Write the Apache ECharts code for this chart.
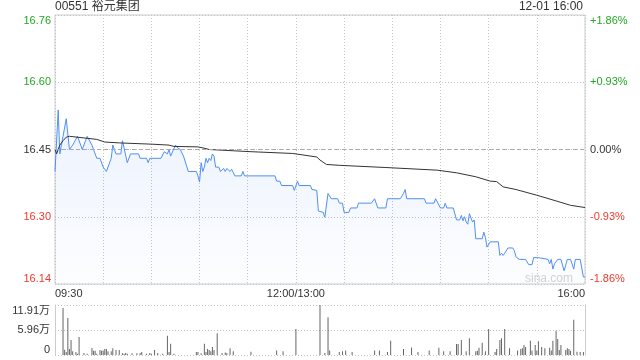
<!DOCTYPE html>
<html><head><meta charset="utf-8">
<script src="https://cdn.jsdelivr.net/npm/echarts@6.0.0/dist/echarts.min.js"></script>
<style>html,body{margin:0;padding:0;background:#fff}#c{width:640px;height:360px}</style>
</head><body><div id="c"></div>
<script>
const prevClose = 16.45;
const stepPct = 0.93;
const priceLabels = ['16.14', '16.30', '16.45', '16.60', '16.76'];
const pctLabels = ['-1.86%', '-0.93%', '0.00%', '+0.93%', '+1.86%'];
const timeLabels = { 0: '09:30', 150: '12:00/13:00', 330: '16:00' };
const volLabels = ['0', '5.96万', '11.91万'];
const volMax = 119100;

const priceMinutes = [0,2,3,4,5,7,9,11,12,14,16,17,19,20,23,26,28,30,32,35,36,38,41,42,45,47,52,53,57,58,59,63,66,68,70,71,72,75,76,78,80,81,83,88,89,90,91,92,93,94,95,96,97,98,99,100,102,103,105,106,107,109,110,112,116,117,118,137,138,140,141,148,149,151,152,159,160,163,164,167,168,170,172,176,177,179,180,183,184,188,189,197,199,201,206,207,215,217,218,219,230,231,236,237,238,240,242,243,244,246,248,250,252,253,254,255,256,257,258,260,261,262,264,265,266,267,268,269,270,271,276,277,278,279,280,282,285,286,287,289,293,294,295,297,298,301,302,307,308,309,310,311,313,315,317,318,319,321,323,324,325,327,329,330];
const priceValues = [16.40,16.54,16.44,16.46,16.48,16.52,16.45,16.46,16.46,16.48,16.46,16.45,16.47,16.48,16.46,16.43,16.43,16.41,16.40,16.43,16.46,16.44,16.44,16.47,16.42,16.44,16.44,16.43,16.43,16.42,16.43,16.43,16.43,16.445,16.44,16.45,16.435,16.46,16.455,16.45,16.435,16.435,16.40,16.40,16.39,16.376,16.42,16.40,16.41,16.43,16.42,16.43,16.425,16.44,16.435,16.41,16.41,16.40,16.407,16.40,16.407,16.40,16.405,16.39,16.39,16.40,16.39,16.39,16.378,16.378,16.368,16.368,16.357,16.378,16.368,16.368,16.359,16.357,16.31,16.307,16.296,16.35,16.338,16.338,16.328,16.328,16.307,16.307,16.317,16.317,16.328,16.328,16.338,16.317,16.317,16.338,16.338,16.35,16.359,16.338,16.338,16.328,16.328,16.338,16.338,16.317,16.317,16.328,16.317,16.317,16.317,16.29,16.29,16.30,16.288,16.297,16.285,16.28,16.304,16.285,16.29,16.247,16.247,16.25,16.247,16.262,16.25,16.228,16.228,16.24,16.24,16.209,16.214,16.209,16.214,16.226,16.226,16.22,16.206,16.20,16.20,16.204,16.188,16.188,16.204,16.204,16.20,16.20,16.19,16.20,16.178,16.19,16.20,16.20,16.174,16.174,16.20,16.20,16.178,16.20,16.20,16.20,16.16,16.16];

const avgMinutes = [0,1,3,5,7,9,26,31,40,61,71,74,89,94,96,122,148,149,163,165,169,177,206,238,250,254,262,271,275,279,287,300,312,321,330];
const avgValues = [16.45,16.44,16.46,16.47,16.478,16.48,16.473,16.467,16.465,16.462,16.46,16.457,16.456,16.452,16.45,16.445,16.441,16.437,16.433,16.426,16.416,16.414,16.409,16.403,16.397,16.394,16.388,16.378,16.377,16.365,16.359,16.346,16.333,16.323,16.318];

const volMinutes = [5,6,7,8,9,10,11,13,14,15,18,20,23,24,25,26,28,29,30,31,32,33,35,36,38,40,42,43,44,45,48,51,53,54,57,59,60,62,64,67,70,71,72,74,88,89,91,93,94,95,96,97,98,99,101,104,106,107,109,111,122,138,142,150,165,168,170,171,177,179,181,185,199,202,207,209,217,222,226,233,239,242,246,250,251,253,256,258,262,263,264,266,268,270,274,275,277,278,280,283,288,290,291,292,293,296,297,299,300,301,303,305,308,309,310,312,313,314,315,318,319,320,321,323,325,327,329];
const volValues = [112000,12600,7000,88000,14000,36000,9000,7000,3000,43000,5000,3000,16700,10000,10000,3000,12000,10000,11000,14000,14000,9000,9000,16000,12000,12000,4000,3000,5000,3000,4000,4000,5000,7000,3000,5000,3000,12000,5000,3000,46000,7000,27000,3000,7000,7000,4000,27000,7000,14000,12000,9000,19000,12000,52000,5000,6000,5000,16000,9000,8000,11000,9000,62000,119100,5000,90000,11000,7000,9000,11000,7000,11000,11000,7000,34000,14000,18000,7000,11000,17000,9000,9000,26000,26000,36000,9000,40000,9000,10000,17000,29000,9000,62000,7000,14000,36000,40000,62000,16000,11000,14000,16000,24000,19000,34000,11000,24000,11000,33000,19000,16000,17000,11000,34000,58000,38000,12000,24000,12000,16000,14000,10000,84000,8000,7000,7000];

const FONT = 'Liberation Sans, Arial, Noto Sans CJK SC, sans-serif';
const toUnit = p => (p / prevClose - 1) * 100 / stepPct;
const labelColor = i => i > 2 ? '#22a722' : (i < 2 ? '#f0392b' : '#333');
const dotted = { color: '#c4c4c4', type: [1, 2], width: 1 };

const priceData = priceMinutes.map((m, i) => [m, toUnit(priceValues[i])]);
const avgData = avgMinutes.map((m, i) => [m, toUnit(avgValues[i])]);
const volData = volMinutes.map((m, i) => [m, volValues[i]]);

const chart = echarts.init(document.getElementById('c'), null, { renderer: 'canvas' });
chart.setOption({
  animation: false,
  textStyle: { fontFamily: FONT },
  title: [
    { text: '00551 裕元集团', left: 55, top: 1, padding: 0, textStyle: { fontSize: 12, fontWeight: 'normal', color: '#333', fontFamily: FONT } },
    { text: '12-01 16:00', right: 57, top: 1, padding: 0, textStyle: { fontSize: 12, fontWeight: 'normal', color: '#333', fontFamily: FONT } }
  ],
  graphic: [{
    type: 'text', right: 67, top: 273, silent: true,
    style: { text: 'sina.com', fontSize: 12, fill: '#d2d2d2', fontFamily: FONT }
  }],
  grid: [
    { left: 55, right: 55, top: 15, height: 269, show: true, borderColor: '#cccccc', borderWidth: 1, backgroundColor: 'transparent' },
    { left: 55, right: 55, top: 305, height: 50 }
  ],
  xAxis: [
    { type: 'value', gridIndex: 0, min: 0, max: 330, interval: 30,
      axisLine: { show: false }, axisTick: { show: false },
      splitLine: { show: true, lineStyle: dotted },
      axisLabel: { margin: 4, fontSize: 11, color: '#333', fontFamily: FONT, alignMinLabel: 'left', alignMaxLabel: 'right',
        showMinLabel: true, showMaxLabel: true, hideOverlap: false,
        formatter: v => timeLabels[v] || '' } },
    { type: 'value', gridIndex: 1, min: 0, max: 330, interval: 30,
      axisLine: { show: false }, axisTick: { show: false }, axisLabel: { show: false }, splitLine: { show: false } }
  ],
  yAxis: [
    { type: 'value', gridIndex: 0, position: 'left', min: -2, max: 2, interval: 1,
      axisLine: { show: false }, axisTick: { show: false },
      splitLine: { show: true, lineStyle: dotted },
      axisLabel: { margin: 4, fontSize: 11, fontFamily: FONT,
        verticalAlignMinLabel: 'bottom', verticalAlignMaxLabel: 'top',
        formatter: v => priceLabels[Math.round(v) + 2],
        color: v => labelColor(Math.round(v) + 2) } },
    { type: 'value', gridIndex: 0, position: 'right', min: -2, max: 2, interval: 1,
      axisLine: { show: false }, axisTick: { show: false }, splitLine: { show: false },
      axisLabel: { margin: 5, fontSize: 11, fontFamily: FONT,
        verticalAlignMinLabel: 'bottom', verticalAlignMaxLabel: 'top',
        formatter: v => pctLabels[Math.round(v) + 2],
        color: v => labelColor(Math.round(v) + 2) } },
    { type: 'value', gridIndex: 1, position: 'left', min: 0, max: volMax, interval: volMax / 2,
      axisLine: { show: true, lineStyle: { color: '#cccccc' } }, axisTick: { show: false },
      splitLine: { show: true, lineStyle: dotted },
      axisLabel: { margin: 5, fontSize: 11, color: '#333', fontFamily: FONT,
        verticalAlignMinLabel: 'bottom', verticalAlignMaxLabel: 'top',
        formatter: v => volLabels[Math.round(v / (volMax / 2))] } },
    { type: 'value', gridIndex: 1, position: 'right', min: 0, max: volMax, interval: volMax / 2,
      axisLine: { show: true, lineStyle: { color: '#cccccc' } }, axisTick: { show: false },
      splitLine: { show: false }, axisLabel: { show: false } }
  ],
  series: [
    { type: 'line', xAxisIndex: 0, yAxisIndex: 0, data: priceData, symbol: 'none', silent: true,
      lineStyle: { color: '#4f8ef5', width: 1 },
      areaStyle: { origin: 'start', color: new echarts.graphic.LinearGradient(0, 0, 0, 1, [
        { offset: 0, color: 'rgba(79,142,245,0.16)' }, { offset: 1, color: 'rgba(79,142,245,0.02)' }]) },
      markLine: { silent: true, symbol: 'none', label: { show: false },
        lineStyle: { color: '#aaaaaa', type: [4, 3], width: 1 }, data: [{ yAxis: 0 }] } },
    { type: 'line', xAxisIndex: 0, yAxisIndex: 0, data: avgData, symbol: 'none', silent: true,
      lineStyle: { color: '#333333', width: 1 } },
    { type: 'bar', xAxisIndex: 1, yAxisIndex: 2, data: volData, barWidth: 1, silent: true,
      itemStyle: { color: '#666666' } }
  ]
});
</script></body></html>
